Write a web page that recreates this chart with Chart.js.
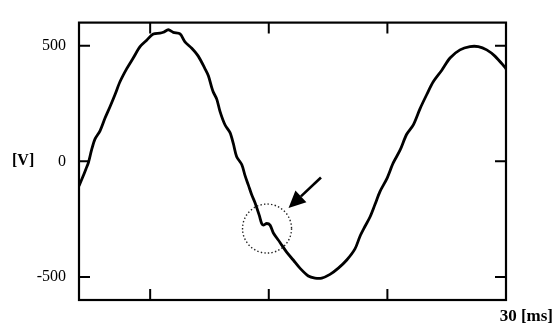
<!DOCTYPE html>
<html>
<head>
<meta charset="utf-8">
<script src="https://cdn.jsdelivr.net/npm/chart.js@4.4.1/dist/chart.umd.min.js"></script>
<style>
html, body { margin: 0; padding: 0; background: #fff; }
canvas { display: block; }
</style>
</head>
<body>
<canvas id="waveChart" width="553" height="325"></canvas>
<script>
// ==================== DATA ====================
const timeMs = [3.00, 3.25, 3.44, 3.59, 3.80, 4.01, 4.33, 4.64, 4.96, 5.28, 5.59, 6.02, 6.43, 6.86, 7.28, 7.70, 8.12, 8.33, 8.65, 8.96,
    9.39, 9.70, 10.13, 10.54, 10.97, 11.18, 11.39, 11.50, 11.71, 11.92, 12.23, 12.55, 12.76, 12.97, 13.29, 13.50, 13.71, 13.92, 14.13, 14.40,
    14.55, 14.65, 14.87, 15.08, 15.29, 15.71, 16.13, 16.55, 16.97, 17.50, 17.92, 18.35, 18.87, 19.40, 19.93, 20.45, 20.77, 21.08, 21.40, 21.72,
    22.03, 22.46, 22.87, 23.30, 23.72, 24.14, 24.56, 24.99, 25.40, 25.93, 26.46, 27.09, 27.72, 28.25, 28.78, 29.30, 29.94, 30.00];
const voltage = [-107, -66, -33, -7, 50, 96, 132, 186, 236, 289, 344, 401, 447, 496, 524, 551, 554, 558, 569, 558,
    551, 517, 489, 455, 400, 370, 320, 298, 269, 215, 158, 124, 76, 20, -14, -62, -103, -145, -179, -234,
    -269, -276, -269, -276, -310, -351, -393, -427, -462, -496, -505, -505, -489, -462, -427, -379, -324, -282, -241, -186,
    -131, -76, -7, 48, 117, 158, 227, 289, 344, 393, 447, 482, 496, 496, 482, 455, 406, 400];
const xTickValues = [7.5, 15, 22.5, 30];
const yTickValues = [-500, 0, 500];
const xRange = [3, 30];
const yRange = [-600, 600];
const yAxisTitle = '[V]';
const xAxisTitle = '30 [ms]';
// marked disturbance (data units) and the arrow pointing at it
const markCircle = { x: 14.89, y: -291, r: 24.5 };
const markArrow = { fromX: 18.30, fromY: -70, toX: 16.25, toY: -202 };

const SERIF = '"Liberation Serif", "DejaVu Serif", serif';

// ==================== FRAME + ANNOTATIONS ====================
const framePlugin = {
    id: 'frame',
    beforeDatasetsDraw(chart) {
        const { ctx, chartArea: a, scales } = chart;
        const tl = 11;
        ctx.save();
        ctx.strokeStyle = '#000';
        ctx.lineWidth = 2.2;
        ctx.strokeRect(a.left, a.top, a.right - a.left, a.bottom - a.top);
        ctx.lineWidth = 2;
        ctx.beginPath();
        xTickValues.forEach(v => {
            const px = scales.x.getPixelForValue(v);
            ctx.moveTo(px, a.bottom); ctx.lineTo(px, a.bottom - tl);
            ctx.moveTo(px, a.top); ctx.lineTo(px, a.top + tl);
        });
        yTickValues.forEach(v => {
            const py = scales.y.getPixelForValue(v);
            ctx.moveTo(a.left, py); ctx.lineTo(a.left + tl, py);
            ctx.moveTo(a.right, py); ctx.lineTo(a.right - tl, py);
        });
        ctx.stroke();
        ctx.fillStyle = '#000';
        ctx.font = 'bold 16px ' + SERIF;
        ctx.textBaseline = 'middle';
        ctx.textAlign = 'left';
        ctx.fillText(yAxisTitle, 12, scales.y.getPixelForValue(0));
        ctx.font = 'bold 17px ' + SERIF;
        ctx.textAlign = 'right';
        ctx.fillText(xAxisTitle, 553, 317);
        ctx.restore();
    },
    afterDatasetsDraw(chart) {
        const { ctx, scales } = chart;
        ctx.save();
        // dotted circle
        const cx = scales.x.getPixelForValue(markCircle.x);
        const cy = scales.y.getPixelForValue(markCircle.y);
        ctx.strokeStyle = '#222';
        ctx.lineWidth = 1.4;
        ctx.setLineDash([1.4, 2.2]);
        ctx.beginPath();
        ctx.arc(cx, cy, markCircle.r, 0, Math.PI * 2);
        ctx.stroke();
        ctx.setLineDash([]);
        // arrow
        const x1 = scales.x.getPixelForValue(markArrow.fromX);
        const y1 = scales.y.getPixelForValue(markArrow.fromY);
        const x2 = scales.x.getPixelForValue(markArrow.toX);
        const y2 = scales.y.getPixelForValue(markArrow.toY);
        const ang = Math.atan2(y2 - y1, x2 - x1);
        const hl = 17, hw = 8;
        const bx = x2 - hl * Math.cos(ang), by = y2 - hl * Math.sin(ang);
        ctx.strokeStyle = '#000';
        ctx.lineWidth = 2.6;
        ctx.beginPath();
        ctx.moveTo(x1, y1); ctx.lineTo(bx, by);
        ctx.stroke();
        ctx.fillStyle = '#000';
        ctx.beginPath();
        ctx.moveTo(x2, y2);
        ctx.lineTo(bx + hw * Math.sin(ang), by - hw * Math.cos(ang));
        ctx.lineTo(bx - hw * Math.sin(ang), by + hw * Math.cos(ang));
        ctx.closePath();
        ctx.fill();
        ctx.restore();
    }
};

// ==================== CHART ====================
const ctx = document.getElementById('waveChart').getContext('2d');
window.waveChart = new Chart(ctx, {
    type: 'line',
    data: {
        datasets: [{
            data: timeMs.map((t, i) => ({ x: t, y: voltage[i] })),
            borderColor: '#000',
            borderWidth: 2.8,
            pointRadius: 0,
            tension: 0.3,
            fill: false
        }]
    },
    options: {
        responsive: false,
        animation: false,
        layout: { padding: { top: 10, right: 47, left: 0, bottom: 0 } },
        plugins: { legend: { display: false }, tooltip: { enabled: false } },
        scales: {
            x: {
                type: 'linear', min: xRange[0], max: xRange[1],
                grid: { display: false, drawTicks: false },
                border: { display: false },
                ticks: { display: false },
                afterFit: s => { s.height = 25; }
            },
            y: {
                type: 'linear', min: yRange[0], max: yRange[1],
                grid: { display: false, drawTicks: false },
                border: { display: false },
                afterBuildTicks: s => { s.ticks = yTickValues.map(v => ({ value: v })); },
                ticks: { color: '#000', padding: 13, font: { family: SERIF, size: 16 }, callback: v => String(v) },
                afterFit: s => { s.width = 79; }
            }
        }
    },
    plugins: [framePlugin]
});
</script>
</body>
</html>
